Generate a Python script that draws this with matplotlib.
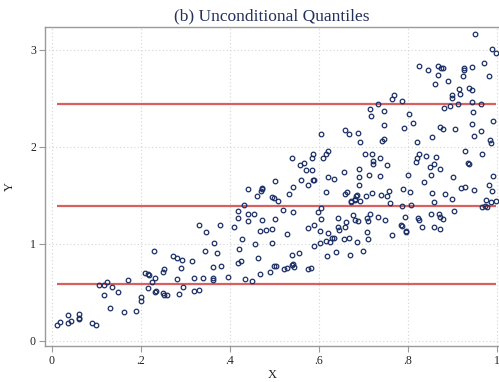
import matplotlib
matplotlib.use("Agg")
import matplotlib.pyplot as plt
import numpy as np

plt.rcParams['font.family'] = ['Liberation Serif', 'DejaVu Serif']

title = "(b) Unconditional Quantiles"
x_label = "X"
y_label = "Y"
x_ticks = [0, 0.2, 0.4, 0.6, 0.8, 1.0]
x_tick_labels = ["0", ".2", ".4", ".6", ".8", "1"]
y_ticks = [0, 1, 2, 3]
y_tick_labels = ["0", "1", "2", "3"]
quantiles = [0.58, 1.39, 2.44]

x_vals = [
    .0105, .019, .035, .035, .043, .061, .061, .061, .091, .100,
    .105, .118, .124, .118, .135, .131, .148, .161, .170, .188,
    .200, .200, .210, .215, .219, .215, .225, .231, .230, .233, .232,
    .249, .252, .250, .252, .258, .272, .281, .292, .290, .281, .294, .285,
    .314, .318, .319, .331, .331, .340, .343, .346, .361, .362, .362, .365, .371, .378, .380, .396,
    .410, .418, .419, .419, .420, .424, .428, .432, .434, .441, .441,
    .440, .449, .453, .457, .460, .463, .469, .471, .473, .472, .467, .468, .481, .491, .495, .495, .495, .498, .501, .502, .504, .500, .508,
    .519, .521, .528, .532, .528, .539, .539, .542, .542, .539, .541, .544, .554,
    .558, .567, .570, .584, .559, .586, .589, .576, .575, .582, .576, .588, .589, .587, .585, .597, .604, .604, .603, .603,
    .608, .604, .616, .616, .618, .620, .620, .621, .616, .625, .630, .634, .633, .638, .642, .642, .645,
    .656, .657, .658, .659, .659, .661, .662, .667, .667, .670, .671, .673, .676, .680, .681, .681, .684, .685, .686, .687,
    .688, .689, .691, .691, .692, .693, .700,
    .703, .706, .709, .709, .710, .710, .713, .714, .715, .717, .718, .718, .721, .721, .733, .733, .737, .738, .739, .742,
    .745, .746, .747, .749, .753, .753, .757, .759, .764, .764, .769,
    .784, .786, .786, .787, .789, .791, .794, .796, .796, .799, .802, .804, .807, .811, .818, .820, .821, .823, .824, .825,
    .825, .831, .837, .840, .846, .849, .852, .852, .854, .855, .858, .858, .859, .860,
    .862, .867, .867, .870, .871, .871, .871, .872, .875, .878, .878, .879, .882, .884, .891, .894, .898, .899, .900, .901,
    .904, .906, .912, .915, .916, .920, .924, .925, .925, .927, .929,
    .935, .936, .937, .943, .943, .944, .944, .945, .948, .949, .951, .963, .964, .966, .966, .970, .974, .975, .978, .982,
    .983, .984, .987, .987, .988, .989, .991, .992, .998, .998,
]

y_vals = [
    .162, .190, .262, .186, .206, .272, .237, .220, .183, .162,
    .578, .575, .609, .472, .557, .341, .503, .296, .623, .310,
    .448, .413, .695, .685, .678, .541, .609, .643, .929, .513, .505,
    .712, .737, .497, .472, .468, .877, .853, .830, .754, .637, .557, .479,
    .819, .510, .644, 1.197, .526, .644, .929, 1.122, .626, .650, .760, 1.005, .902, 1.194, .771, .660,
    1.177, 1.342, .805, 1.270, .949, .819, 1.050, 1.397, .637, 1.304, 1.235,
    1.562, .616, 1.311, .998, 1.496, .857, 1.545, 1.573, 1.566, 1.243, 1.132, .685, 1.142, .712, 1.150, 1.005, 1.486, .774, 1.253, 1.648, .774, 1.470, 1.442,
    1.349, .737, .747, 1.517, 1.101, .881, .781, 1.589, 1.331, 1.889, .790, .765, .905,
    1.810, 1.834, 1.758, 1.758, 1.658, 1.655, 1.655, 1.610, .737, .747, 1.160, 1.191, .974, 1.927, 1.889, 1.325, 1.373, 1.259, 1.135, 1.011,
    1.889, 2.130, 1.924, 1.532, .877, 1.958, 1.115, 1.686, 1.032, 1.022, 1.060, 1.060, 1.666, .918, 1.263, 1.177, 1.139,
    1.744, 1.046, 1.177, 2.174, 1.511, 1.222, 1.535, 2.133, 1.060, .888, 1.431, 1.440, 1.300, 1.452, 1.246, 1.462, 1.490, 1.022, 1.503, 1.238,
    2.143, 1.775, 1.692, 1.603, 1.438, 2.050, .929,
    1.927, 1.496, 1.263, 1.125, 1.232, 1.050, 1.710, 1.311, 2.391, 2.322, 1.927, 1.524, 1.858, 1.820, 2.443, 1.277, 1.885, 1.700, 1.500, 2.064,
    2.085, 2.229, 2.370, 1.246, 1.816, 1.493, 1.548, 1.418, 1.094, 2.494, 2.536,
    1.191, 2.477, 1.390, 1.181, 1.562, 2.192, 1.277, 1.132, 1.122, 1.710, 2.340, 1.532, 1.397, 2.243, 1.847, 2.054, 1.885, 1.263, 2.835, 1.924,
    1.246, 1.177, 1.638, 1.906, 2.797, 1.789, 1.710, 1.304, 1.527, 2.105, 1.827, 1.434, 1.171, 2.649,
    1.899, 2.838, 2.738, 1.308, 1.273, 1.150, 2.208, 1.769, 2.810, 1.253, 2.188, 2.817, 2.401, 1.517, 2.683, 2.419, 2.536, 1.465, 2.508, 1.686,
    1.338, 2.188, 2.443, 2.598, 2.546, 1.576, 2.732, 2.810, 2.797, 1.961, 1.589,
    1.831, 1.820, 2.611, 2.584, 2.467, 2.821, 2.240, 2.360, 2.113, 1.552, 3.165, 2.161, 2.443, 1.924, 1.377, 2.863, 1.387, 1.449, 1.377, 2.732,
    1.610, 2.070, 2.037, 1.434, 1.542, 3.010, 2.264, 1.703, 2.966, 1.442,
]

xs = np.array(x_vals)
ys = np.array(y_vals)

W, H = 499, 382
fig = plt.figure(figsize=(W / 100, H / 100), dpi=100)
fig.patch.set_facecolor("white")

left_px, right_px, top_px, bottom_px = 45, 499, 27, 346
ax = fig.add_axes([left_px / W, 1 - bottom_px / H,
                   (right_px - left_px) / W, (bottom_px - top_px) / H])

ax.set_xlim(-0.0157, 1.0045)
ax.set_ylim(-0.055, 3.237)

grid_kw = dict(color="#d4d4d4", linewidth=0.8, linestyle=(0, (1, 2.2)), zorder=1)
for t in x_ticks:
    ax.axvline(t, **grid_kw)
for t in y_ticks:
    ax.axhline(t, **grid_kw)

ax.hlines(quantiles, xs.min(), xs.max(), colors="#d9605f", linewidth=1.6, zorder=2)

ax.plot(xs, ys, linestyle="none", marker="o", markersize=3.3,
        markerfacecolor="none", markeredgecolor="#1b2f66", markeredgewidth=0.9, zorder=3)

ax.set_xticks(x_ticks)
ax.set_xticklabels(x_tick_labels)
ax.set_yticks(y_ticks)
ax.set_yticklabels(y_tick_labels)

for side in ["left", "bottom", "top"]:
    ax.spines[side].set_color("#9a9a9a")
    ax.spines[side].set_linewidth(1.0)
ax.spines["right"].set_visible(False)

ax.tick_params(axis="both", direction="out", length=4, width=0.8, color="#9a9a9a",
               labelsize=8.5, labelcolor="#222222", pad=2.5)

ax.set_xlabel(x_label, fontsize=9, color="#222222", labelpad=1.5)
ax.set_ylabel(y_label, fontsize=9, color="#222222", labelpad=10)

fig.text((left_px + right_px) / 2 / W, 1 - 16 / H, title, ha="center", va="center",
         fontsize=12.5, color="#22305a")

fig.savefig("out.png", dpi=100, facecolor="white")
